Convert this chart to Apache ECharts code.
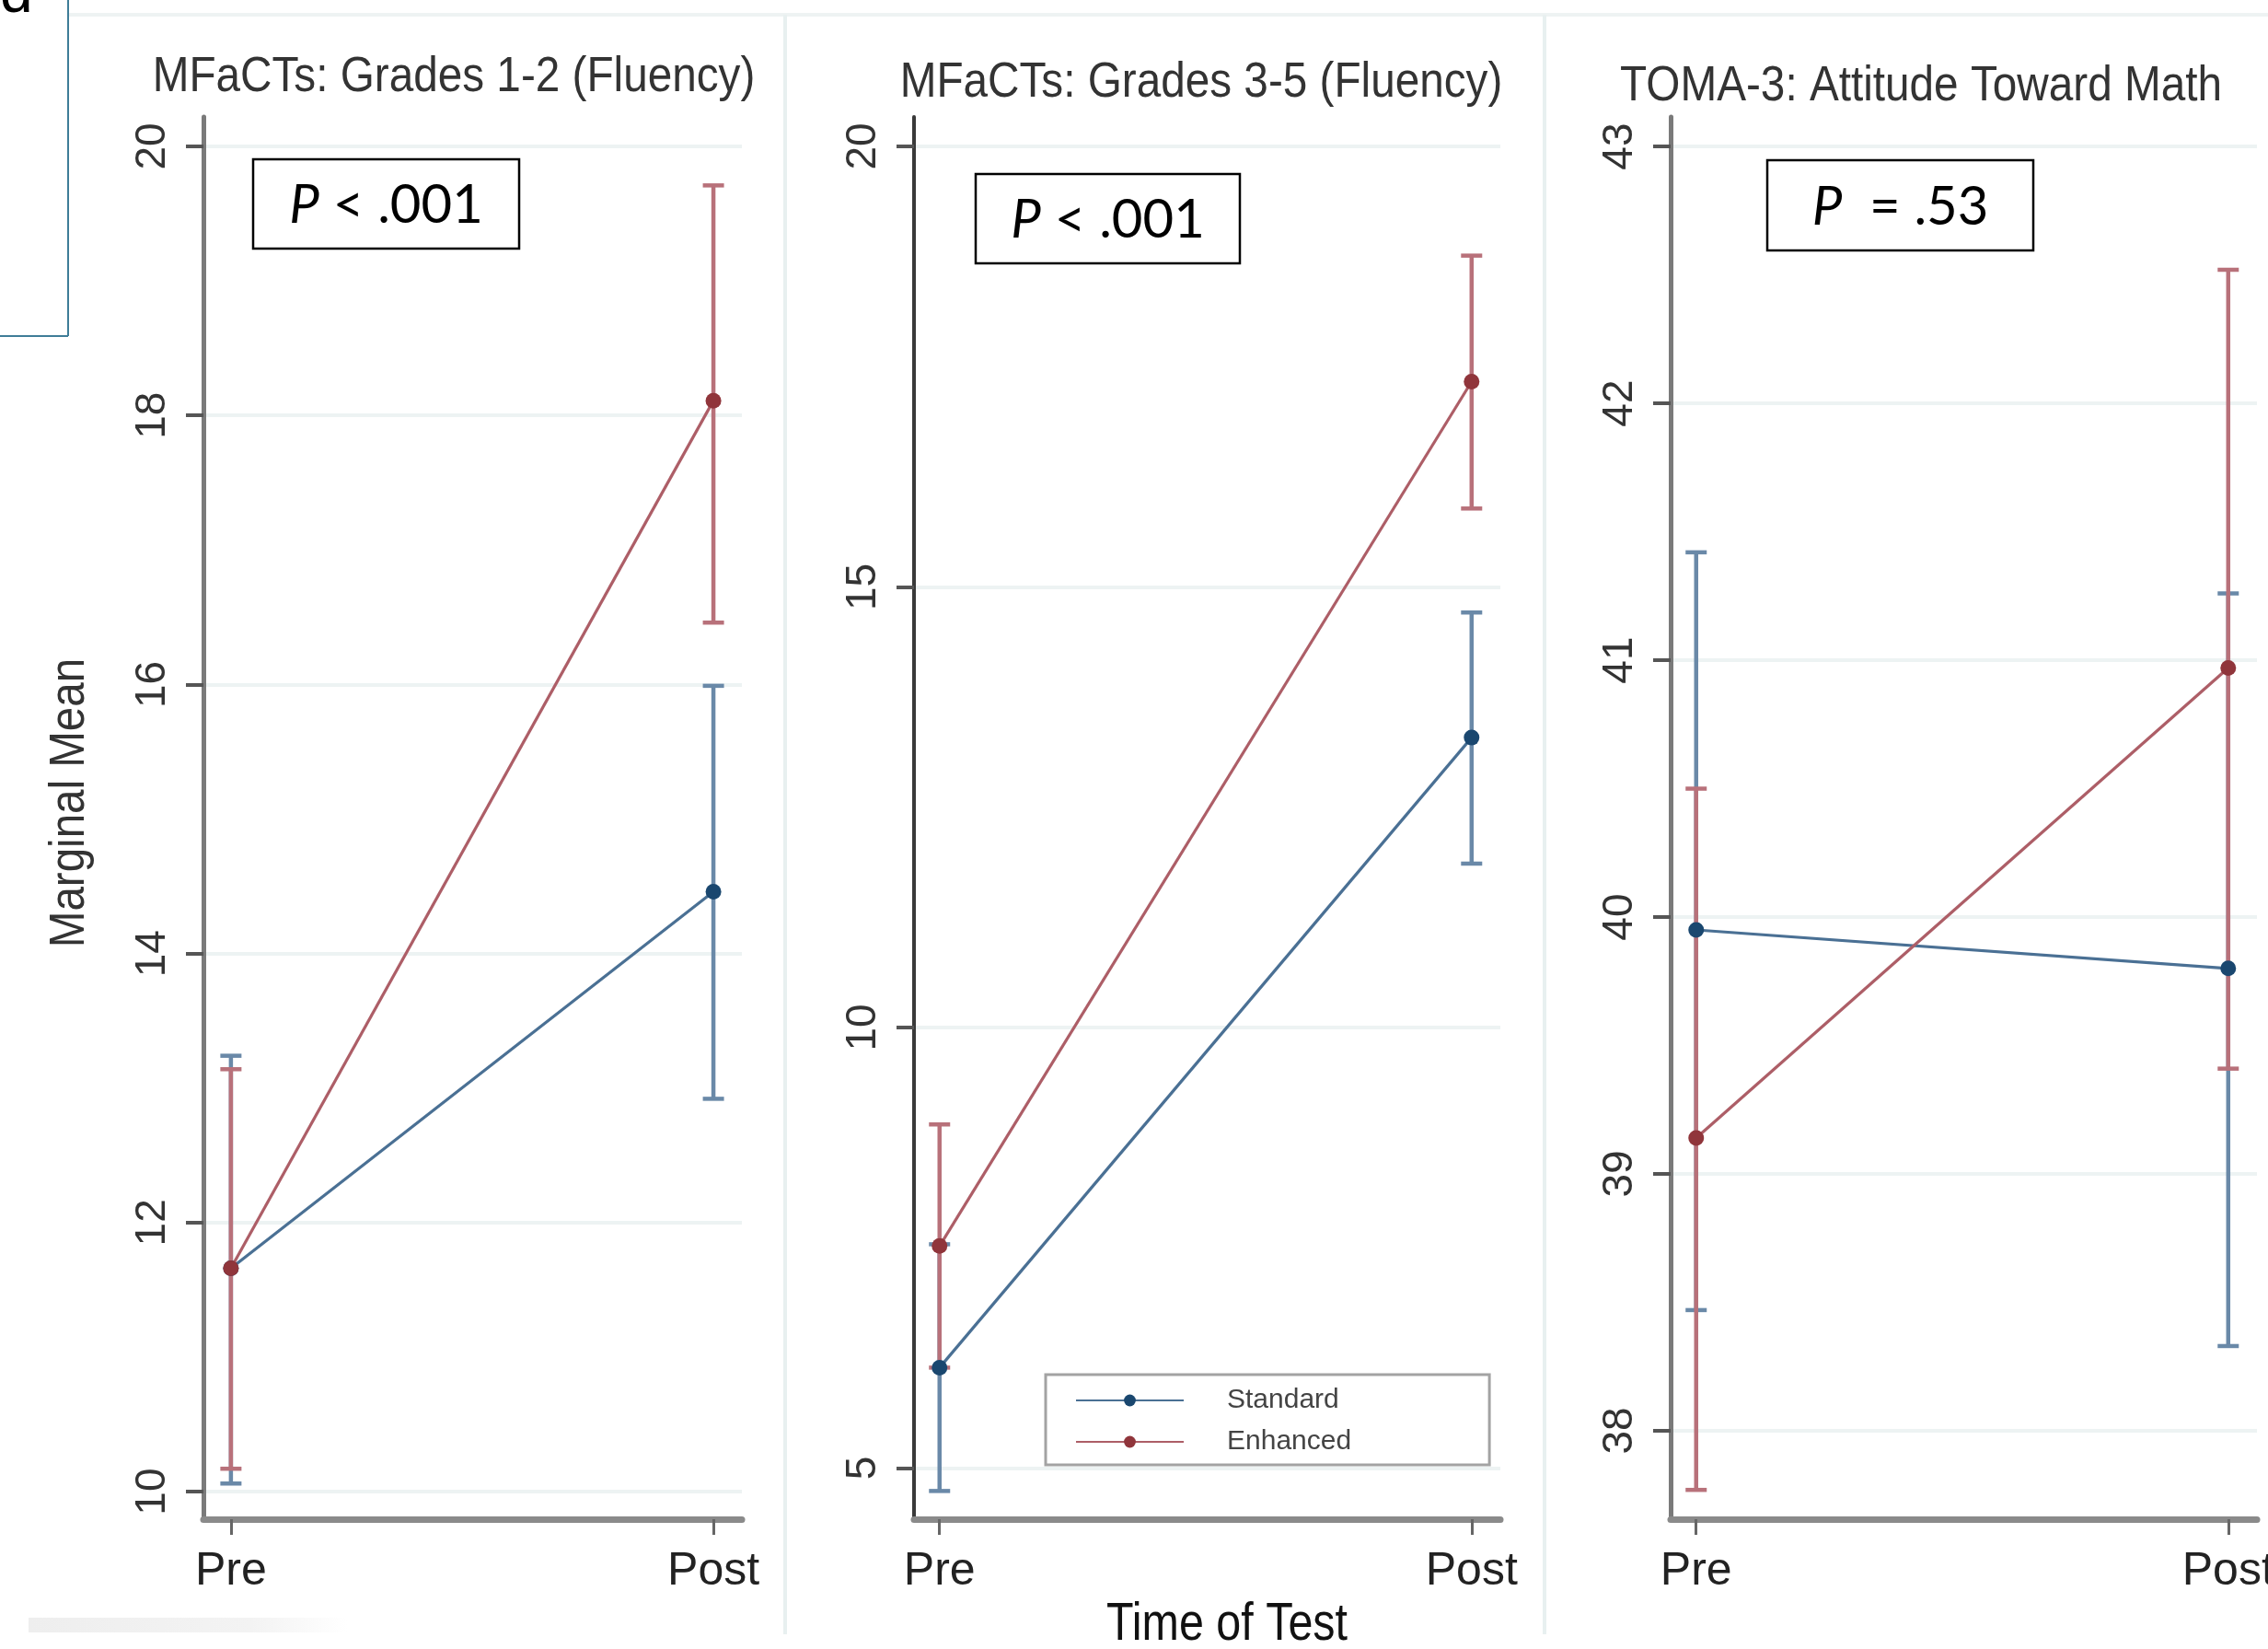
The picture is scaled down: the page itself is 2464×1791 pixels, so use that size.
<!DOCTYPE html>
<html>
<head>
<meta charset="utf-8">
<script src="https://cdn.jsdelivr.net/npm/echarts@6/dist/echarts.min.js"></script>
<style>
html,body{margin:0;padding:0;background:#fff;}
#chart{width:2464px;height:1791px;}
</style>
</head>
<body>
<div id="chart"></div>
<script>
// ---------------- DATA ----------------
const categories = ['Pre', 'Post'];
const panelTitles = ['MFaCTs: Grades 1-2 (Fluency)', 'MFaCTs: Grades 3-5 (Fluency)', 'TOMA-3: Attitude Toward Math'];
const pTexts = [['P', ' < .001'], ['P', ' < .001'], ['P', '  = .53']];
const seriesNames = ['Standard', 'Enhanced'];

// Panel 1: MFaCTs Grades 1-2
const standardMean1 = [11.66, 14.46];
const standardLow1  = [10.06, 12.92];
const standardHigh1 = [13.24, 15.99];
const enhancedMean1 = [11.66, 18.11];
const enhancedLow1  = [10.17, 16.46];
const enhancedHigh1 = [13.14, 19.71];
const yTicks1 = [10, 12, 14, 16, 18, 20];

// Panel 2: MFaCTs Grades 3-5
const standardMean2 = [6.14, 13.29];
const standardLow2  = [4.74, 11.86];
const standardHigh2 = [7.54, 14.71];
const enhancedMean2 = [7.52, 17.33];
const enhancedLow2  = [6.14, 15.89];
const enhancedHigh2 = [8.90, 18.76];
const yTicks2 = [5, 10, 15, 20];

// Panel 3: TOMA-3
const standardMean3 = [39.95, 39.80];
const standardLow3  = [38.47, 38.33];
const standardHigh3 = [41.42, 41.26];
const enhancedMean3 = [39.14, 40.97];
const enhancedLow3  = [37.77, 39.41];
const enhancedHigh3 = [40.50, 42.52];
const yTicks3 = [38, 39, 40, 41, 42, 43];

const xLabel = 'Time of Test';
const yLabel = 'Marginal Mean';

// ---------------- STYLE / LAYOUT ----------------
const SANS = "'Liberation Sans', Arial, sans-serif";
const BLUE_LINE = '#4a7094', RED_LINE = '#ad5e67';
const BLUE_MK = '#1a476f', RED_MK = '#90353b';
const BLUE_CI = '#6a89a8', RED_CI = '#b8717a';

const panels = [
  {grid: {left: 221, top: 127, width: 585, height: 1523}, yMin: 9.795, yMax: 20.219, xMin: -0.057, xMax: 1.059,
   ticks: yTicks1, yAxisColor: '#7a7a7a', yAxisWidth: 5,
   sm: standardMean1, sl: standardLow1, sh: standardHigh1, em: enhancedMean1, el: enhancedLow1, eh: enhancedHigh1},
  {grid: {left: 993, top: 127, width: 637, height: 1523}, yMin: 4.42, yMax: 20.334, xMin: -0.048, xMax: 1.054,
   ticks: yTicks2, yAxisColor: '#3a3a3a', yAxisWidth: 4,
   sm: standardMean2, sl: standardLow2, sh: standardHigh2, em: enhancedMean2, el: enhancedLow2, eh: enhancedHigh2},
  {grid: {left: 1815, top: 127, width: 637, height: 1523}, yMin: 37.656, yMax: 43.115, xMin: -0.048, xMax: 1.054,
   ticks: yTicks3, yAxisColor: '#7a7a7a', yAxisWidth: 5,
   sm: standardMean3, sl: standardLow3, sh: standardHigh3, em: enhancedMean3, el: enhancedLow3, eh: enhancedHigh3}
];

const titlePos = [[493, 84], [1305, 90], [2087, 94]];
const pBoxes = [[275, 173, 289, 97], [1060, 189, 287, 97], [1920, 174, 289, 98]];

function errRender(params, api) {
  const x = api.value(0), lo = api.value(1), hi = api.value(2);
  const a = api.coord([x, lo]), b = api.coord([x, hi]);
  const c = api.visual('color');
  const cap = 11.5;
  const st = {stroke: c, lineWidth: 4.5};
  return {type: 'group', children: [
    {type: 'line', shape: {x1: a[0], y1: a[1], x2: b[0], y2: b[1]}, style: st},
    {type: 'line', shape: {x1: a[0] - cap, y1: a[1], x2: a[0] + cap, y2: a[1]}, style: st},
    {type: 'line', shape: {x1: b[0] - cap, y1: b[1], x2: b[0] + cap, y2: b[1]}, style: st}
  ]};
}

const grids = [], xAxes = [], yAxes = [], series = [];
panels.forEach((p, i) => {
  grids.push(Object.assign({containLabel: false, outerBoundsMode: 'none'}, p.grid));
  xAxes.push({
    type: 'value', gridIndex: i, min: p.xMin, max: p.xMax,
    axisLine: {show: true, onZero: false, lineStyle: {color: '#8a8a8a', width: 7}},
    axisTick: {show: true, length: 17, lineStyle: {color: '#666', width: 3}, customValues: [0, 1]},
    axisLabel: {customValues: [0, 1], formatter: v => categories[Math.round(v)], margin: 32,
      fontFamily: SANS, fontSize: 50, color: '#222', hideOverlap: false},
    splitLine: {show: false}
  });
  yAxes.push({
    type: 'value', gridIndex: i, min: p.yMin, max: p.yMax,
    axisLine: {show: true, onZero: false, lineStyle: {color: p.yAxisColor, width: p.yAxisWidth}},
    axisTick: {show: true, length: 19, lineStyle: {color: '#555', width: 4}, customValues: p.ticks},
    axisLabel: {customValues: p.ticks, rotate: 90, margin: 32, fontFamily: SANS, fontSize: 46, color: '#333'},
    splitLine: {show: true, lineStyle: {color: '#edf3f3', width: 4}}
  });
  const pts = arr => arr.map((v, k) => [k, v]);
  const ci = (lo, hi) => lo.map((v, k) => [k, v, hi[k]]);
  series.push({
    name: 'Standard CI', type: 'custom', xAxisIndex: i, yAxisIndex: i, renderItem: errRender,
    itemStyle: {color: BLUE_CI}, data: ci(p.sl, p.sh), z: 2, silent: true, clip: false
  });
  series.push({
    name: 'Enhanced CI', type: 'custom', xAxisIndex: i, yAxisIndex: i, renderItem: errRender,
    itemStyle: {color: RED_CI}, data: ci(p.el, p.eh), z: 2, silent: true, clip: false
  });
  series.push({
    name: seriesNames[0], type: 'line', xAxisIndex: i, yAxisIndex: i, data: pts(p.sm),
    symbol: 'circle', symbolSize: 17, lineStyle: {color: BLUE_LINE, width: 3.2},
    itemStyle: {color: BLUE_MK}, z: 3, animation: false
  });
  series.push({
    name: seriesNames[1], type: 'line', xAxisIndex: i, yAxisIndex: i, data: pts(p.em),
    symbol: 'circle', symbolSize: 17, lineStyle: {color: RED_LINE, width: 3.2},
    itemStyle: {color: RED_MK}, z: 4, animation: false
  });
});

const graphics = [];
// top-left corner box and letter
graphics.push({type: 'line', shape: {x1: 0, y1: 365, x2: 74, y2: 365}, style: {stroke: '#3f7d98', lineWidth: 2}});
graphics.push({type: 'line', shape: {x1: 74, y1: 0, x2: 74, y2: 365}, style: {stroke: '#3f7d98', lineWidth: 2}});
graphics.push({type: 'text', x: 0, y: 27, style: {text: 'd', font: "64px " + SANS, fill: '#000', textVerticalAlign: 'bottom'}});
// faint panel frames
graphics.push({type: 'line', shape: {x1: 75, y1: 16, x2: 2464, y2: 16}, style: {stroke: '#eef3f3', lineWidth: 4}});
graphics.push({type: 'line', shape: {x1: 853, y1: 16, x2: 853, y2: 1775}, style: {stroke: '#e8f0f0', lineWidth: 4}});
graphics.push({type: 'line', shape: {x1: 1678, y1: 16, x2: 1678, y2: 1775}, style: {stroke: '#e8f0f0', lineWidth: 4}});
graphics.push({type: 'rect', shape: {x: 31, y: 1757, width: 346, height: 16},
  style: {fill: {type: 'linear', x: 0, y: 0, x2: 1, y2: 0, colorStops: [{offset: 0, color: '#eeeeee'}, {offset: 0.7, color: '#f3f3f3'}, {offset: 1, color: '#ffffff'}]}}});
// panel titles (condensed)
panelTitles.forEach((t, i) => {
  graphics.push({type: 'text', x: titlePos[i][0], y: titlePos[i][1], scaleX: 0.9,
    style: {text: t, font: "53px " + SANS, fill: '#333', textAlign: 'center', textVerticalAlign: 'middle'}});
});
// P-value boxes
pBoxes.forEach((b, i) => {
  graphics.push({type: 'rect', shape: {x: b[0], y: b[1], width: b[2], height: b[3]},
    style: {fill: '#fff', stroke: '#000', lineWidth: 2.5}, z: 10});
  graphics.push({type: 'text', x: b[0] + b[2] / 2, y: b[1] + b[3] / 2 + 2, z: 11,
    style: {text: '{p|' + pTexts[i][0] + '}' + pTexts[i][1], font: "58px Lato", fill: '#000',
      textAlign: 'center', textVerticalAlign: 'middle',
      rich: {p: {fontFamily: 'Lato', fontStyle: 'italic', fontSize: 58, fill: '#000'}}}});
});
// axis titles
graphics.push({type: 'text', x: 1333, y: 1765, scaleX: 0.85,
  style: {text: xLabel, font: "57px " + SANS, fill: '#111', textAlign: 'center', textVerticalAlign: 'middle'}});
graphics.push({type: 'text', x: 76, y: 872, rotation: Math.PI / 2, scaleX: 0.88,
  style: {text: yLabel, font: "54px " + SANS, fill: '#333', textAlign: 'center', textVerticalAlign: 'middle'}});

const chart = echarts.init(document.getElementById('chart'), null, {renderer: 'canvas'});
chart.setOption({
  backgroundColor: '#fff',
  animation: false,
  grid: grids,
  xAxis: xAxes,
  yAxis: yAxes,
  legend: {
    data: seriesNames, orient: 'vertical', left: 1136, top: 1493,
    padding: [13, 150, 10, 32], itemGap: 15, itemWidth: 117, itemHeight: 16,
    borderColor: '#a3a3a3', borderWidth: 3, backgroundColor: '#fff',
    textStyle: {fontFamily: SANS, fontSize: 30, color: '#444', lineHeight: 30, padding: [0, 0, 0, 42]},
    selectedMode: false
  },
  series: series,
  graphic: graphics
});
</script>
</body>
</html>
